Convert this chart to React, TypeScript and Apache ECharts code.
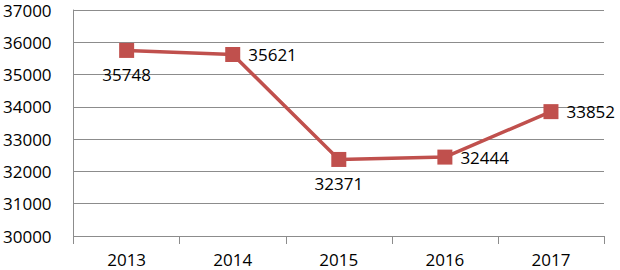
import React, { useEffect, useRef } from "react";
import * as echarts from "echarts";

const years = ["2013", "2014", "2015", "2016", "2017"];
const values = [35748, 35621, 32371, 32444, 33852];
const labelPositions = ["bottom", "right", "bottom", "right", "right"];

export default function App() {
  const ref = useRef<HTMLDivElement>(null);
  useEffect(() => {
    if (!ref.current) return;
    const chart = echarts.init(ref.current, undefined, { renderer: "svg" });
    const font = "'Open Sans', sans-serif";
    chart.setOption({
      animation: false,
      backgroundColor: "#fff",
      grid: { left: 72, right: 16, top: 10, bottom: 34 },
      xAxis: {
        type: "category",
        data: years,
        boundaryGap: true,
        axisLine: { lineStyle: { color: "#8c8c8c", width: 1 } },
        axisTick: { show: true, length: 8, lineStyle: { color: "#8c8c8c" } },
        axisLabel: { color: "#000", fontSize: 17, fontFamily: font, margin: 15 },
        splitLine: { show: false },
      },
      yAxis: {
        type: "value",
        min: 30000,
        max: 37000,
        interval: 1000,
        axisLine: { show: true, lineStyle: { color: "#8c8c8c", width: 1 } },
        axisTick: { show: false },
        axisLabel: {
          color: "#000",
          fontSize: 17,
          fontFamily: font,
          margin: 22,
          formatter: (v: number) => String(v),
        },
        splitLine: { show: true, lineStyle: { color: "#8c8c8c", width: 1 } },
      },
      series: [
        {
          type: "line",
          data: values.map((v, i) => ({
            value: v,
            label: { position: labelPositions[i] },
          })),
          symbol: "rect",
          symbolSize: 15,
          lineStyle: { color: "#C0504D", width: 3.5 },
          itemStyle: { color: "#C0504D" },
          label: {
            show: true,
            color: "#000",
            fontSize: 17,
            fontFamily: font,
            distance: 8,
          },
        },
      ],
    });
    return () => chart.dispose();
  }, []);
  return <div ref={ref} style={{ width: 620, height: 270, position: "absolute", left: 0, top: 0 }} />;
}
